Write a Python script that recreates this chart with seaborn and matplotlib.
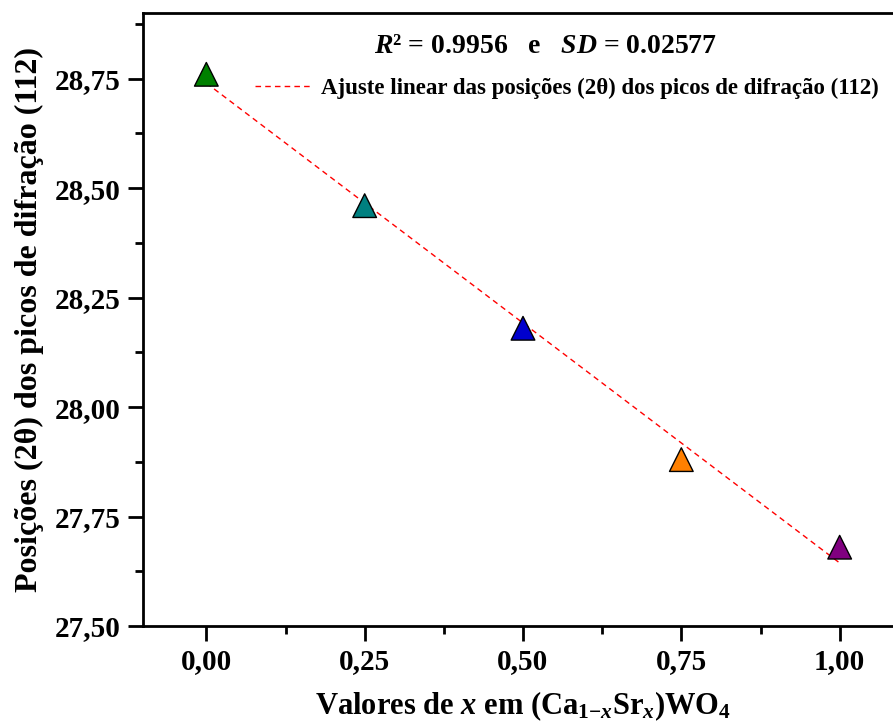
import numpy as np
import pandas as pd
import matplotlib
matplotlib.use("Agg")
import matplotlib.pyplot as plt
from matplotlib.ticker import MultipleLocator, FuncFormatter
import seaborn as sns

# Data
x_vals = [0.00, 0.25, 0.50, 0.75, 1.00]
peak_pos = [28.76, 28.46, 28.18, 27.88, 27.68]
point_colors = ["#008000", "#008080", "#0000CD", "#FF8000", "#800080"]
x_ticks = [0.00, 0.25, 0.50, 0.75, 1.00]
y_ticks = [27.50, 27.75, 28.00, 28.25, 28.50, 28.75]
legend_label = "Ajuste linear das posições (2θ) dos picos de difração (112)"
stats_text = r"$R$² = 0.9956   e   $SD$ = 0.02577"

sns.set_style("white")
plt.rcParams["font.family"] = ["Liberation Serif", "DejaVu Serif"]
plt.rcParams["font.weight"] = "bold"
plt.rcParams["text.color"] = "black"
plt.rcParams["axes.labelcolor"] = "black"
plt.rcParams["xtick.color"] = "black"
plt.rcParams["ytick.color"] = "black"
plt.rcParams["mathtext.fontset"] = "custom"
plt.rcParams["mathtext.rm"] = "Liberation Serif:bold"
plt.rcParams["mathtext.it"] = "Liberation Serif:italic:bold"
plt.rcParams["mathtext.bf"] = "Liberation Serif:bold"

df = pd.DataFrame({"x": x_vals, "y": peak_pos, "c": [str(i) for i in range(len(x_vals))]})

fig = plt.figure(figsize=(8.93, 7.26), dpi=100)
ax = fig.add_axes([143/893, 1 - 626/726, (903 - 143)/893, (626 - 13)/726])

# linear fit
slope, intercept = np.polyfit(x_vals, peak_pos, 1)
fit_df = pd.DataFrame({"x": x_vals, "y": [slope*v + intercept for v in x_vals]})
sns.lineplot(data=fit_df, x="x", y="y", ax=ax, color="red", linewidth=1.0,
             dashes=False, label=legend_label)
ax.lines[0].set_dashes([4, 3])

sns.scatterplot(data=df, x="x", y="y", hue="c", palette=point_colors, marker="^",
                s=290, edgecolor="black", linewidth=1.0, ax=ax, legend=False, zorder=3)

ax.set_xlim(-0.1, 1.1)
ax.set_ylim(27.5, 28.9)
ax.set_xticks(x_ticks)
ax.set_yticks(y_ticks)
ax.xaxis.set_minor_locator(MultipleLocator(0.125))
ax.yaxis.set_minor_locator(MultipleLocator(0.125))
fmt = FuncFormatter(lambda v, p: f"{v:.2f}".replace(".", ","))
ax.xaxis.set_major_formatter(fmt)
ax.yaxis.set_major_formatter(fmt)
ax.tick_params(axis="both", which="major", direction="out", length=11, width=2,
               labelsize=21, pad=5, bottom=True, left=True, colors="black")
ax.tick_params(axis="both", which="minor", direction="out", length=6, width=2,
               bottom=True, left=True, colors="black")
for lab in ax.get_xticklabels() + ax.get_yticklabels():
    lab.set_fontweight("bold")
for sp in ax.spines.values():
    sp.set_linewidth(2)
    sp.set_color("black")

ax.set_xlabel(r"Valores de $x$ em (Ca$_{1\mathrm{-}x}$Sr$_x$)WO$_4$", fontsize=22,
              fontweight="bold", labelpad=10)
ax.set_ylabel("Posições (2θ) dos picos de difração (112)", fontsize=23,
              fontweight="bold", labelpad=8)

ax.text(0.529, 0.945, stats_text, transform=ax.transAxes, ha="center", va="center",
        fontsize=20, fontweight="bold")

leg = ax.legend(loc="upper left", bbox_to_anchor=(0.147, 0.894), frameon=False,
                fontsize=16.5, handlelength=2.4, handletextpad=0.5,
                borderaxespad=0, borderpad=0)
for t in leg.get_texts():
    t.set_fontweight("bold")
    t.set_color("black")

fig.savefig("out.png", dpi=100)
